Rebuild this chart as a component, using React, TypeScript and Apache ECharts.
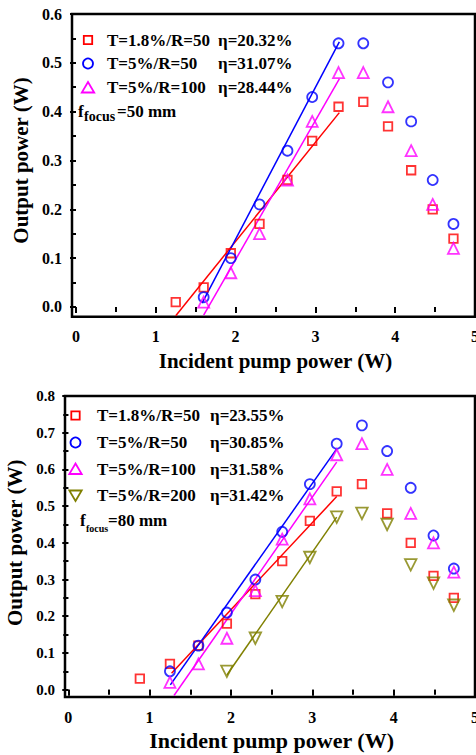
import React, { useEffect, useRef } from "react";
import * as echarts from "echarts";

const FONT = "'Liberation Serif','Times New Roman',serif";

// ---------- data: top chart (f_focus = 50 mm) ----------
const topPump = [1.25, 1.6, 1.94, 2.3, 2.65, 2.96, 3.29, 3.6, 3.91, 4.2, 4.47, 4.73];
const topRed = [0.01, 0.04, 0.11, 0.17, 0.26, 0.34, 0.41, 0.42, 0.37, 0.28, 0.2, 0.14];
const topBlue = [null, 0.02, 0.1, 0.21, 0.32, 0.43, 0.54, 0.54, 0.46, 0.38, 0.26, 0.17];
const topMagenta = [null, 0.01, 0.07, 0.15, 0.26, 0.38, 0.48, 0.48, 0.41, 0.32, 0.21, 0.12];
const topFitRed = [[1.25, -0.018], [3.3, 0.398]];
const topFitBlue = [[1.58, 0.008], [3.3, 0.543]];
const topFitMagenta = [[1.6, -0.017], [3.3, 0.467]];
const topLabels = ["T=1.8%/R=50", "T=5%/R=50", "T=5%/R=100"];
const topEta = ["η=20.32%", "η=31.07%", "η=28.44%"];

// ---------- data: bottom chart (f_focus = 80 mm) ----------
const botPump = [0.88, 1.25, 1.6, 1.95, 2.3, 2.63, 2.97, 3.3, 3.61, 3.92, 4.21, 4.49, 4.74];
const botRed = [0.03, 0.07, 0.12, 0.18, 0.26, 0.35, 0.46, 0.54, 0.56, 0.48, 0.4, 0.31, 0.25];
const botBlue = [null, 0.05, 0.12, 0.21, 0.3, 0.43, 0.56, 0.67, 0.72, 0.65, 0.55, 0.42, 0.33];
const botMagenta = [null, 0.02, 0.07, 0.14, 0.27, 0.41, 0.52, 0.64, 0.67, 0.6, 0.48, 0.4, 0.32];
const botOlive = [null, null, null, 0.05, 0.14, 0.24, 0.36, 0.47, 0.48, 0.45, 0.34, 0.29, 0.23];
const botFitRed = [[1.27, 0.045], [3.3, 0.526]];
const botFitBlue = [[1.255, 0.013], [3.3, 0.656]];
const botFitMagenta = [[1.3, -0.016], [3.3, 0.62]];
const botFitOlive = [[1.95, 0.04], [3.3, 0.47]];
const botLabels = ["T=1.8%/R=50", "T=5%/R=50", "T=5%/R=100", "T=5%/R=200"];
const botEta = ["η=23.55%", "η=30.85%", "η=31.58%", "η=31.42%"];

const xTicksTop = 5;
const yMaxTop = 0.6;
const yMaxBot = 0.8;

const RED = "#ff0000";
const BLUE = "#0000ff";
const MAGENTA = "#ff00ff";
const OLIVE = "#808000";

const pairs = (xs: number[], ys: (number | null)[]) =>
  xs.map((x, i) => [x, ys[i]]).filter((p) => p[1] !== null);

type Layout = { left: number; right: number; top: number; bottom: number; xMin: number; xMax: number; yMin: number; yMax: number };
const TOP: Layout = { left: 72, right: 475, top: 14, bottom: 316.7, xMin: -0.05, xMax: 5, yMin: -0.02, yMax: yMaxTop };
const BOT: Layout = { left: 65, right: 475, top: 396, bottom: 697, xMin: -0.04, xMax: 5, yMin: -0.02, yMax: yMaxBot };

function grids(L: Layout) {
  const w = L.right - L.left;
  const h = L.bottom - L.top;
  const px = w / (L.xMax - L.xMin);
  const py = h / (L.yMax - L.yMin);
  const tLeft = L.left + (0 - L.xMin) * px;
  const tBottom = L.bottom - (0 - L.yMin) * py;
  return {
    a: { left: L.left, top: L.top, width: w, height: h, show: true, borderColor: "#000", borderWidth: 2.5, backgroundColor: "transparent", outerBoundsMode: "none", containLabel: false },
    b: { left: tLeft, top: L.top, width: L.right - tLeft, height: tBottom - L.top, show: false, outerBoundsMode: "none", containLabel: false },
    xOffset: L.bottom - tBottom,
    yOffset: tLeft - L.left,
  };
}

const noSplit = { splitLine: { show: false }, minorSplitLine: { show: false } };

function scatter(name: string, data: any[], color: string, symbol: string, size: number, xi: number, rotate = 0) {
  return {
    type: "scatter",
    name,
    xAxisIndex: xi,
    yAxisIndex: xi,
    data,
    symbol,
    symbolSize: size,
    symbolRotate: rotate,
    itemStyle: { color: "rgba(0,0,0,0)", borderColor: color, borderWidth: 1.8 },
    emphasis: { disabled: true },
    z: 3,
  };
}
function fit(data: number[][], color: string, xi: number) {
  return {
    type: "line",
    xAxisIndex: xi,
    yAxisIndex: xi,
    data,
    symbol: "none",
    showSymbol: false,
    lineStyle: { color, width: 1.5 },
    silent: true,
    z: 2,
  };
}

function legendItems(
  x0: number,
  xText: number,
  xEta: number,
  rows: number[],
  labels: string[],
  etas: string[],
  colors: string[],
  kinds: string[],
  fs: number
) {
  const els: any[] = [];
  rows.forEach((y, i) => {
    const c = colors[i];
    const st = { fill: "none", stroke: c, lineWidth: 1.8 };
    const k = kinds[i];
    if (k === "rect") els.push({ type: "rect", shape: { x: x0 - 4.2, y: y - 4.2, width: 8.4, height: 8.4 }, style: st });
    else if (k === "circle") els.push({ type: "circle", shape: { cx: x0, cy: y, r: 5 }, style: st });
    else if (k === "up")
      els.push({ type: "polygon", shape: { points: [[x0, y - 5.5], [x0 + 6.2, y + 5], [x0 - 6.2, y + 5]] }, style: st });
    else
      els.push({ type: "polygon", shape: { points: [[x0, y + 5.5], [x0 + 6.2, y - 5], [x0 - 6.2, y - 5]] }, style: st });
    els.push({ type: "text", x: xText, y, style: { text: labels[i], fill: "#000", font: `bold ${fs}px ${FONT}`, verticalAlign: "middle" } });
    els.push({ type: "text", x: xEta, y, style: { text: etas[i], fill: "#000", font: `bold ${fs}px ${FONT}`, verticalAlign: "middle" } });
  });
  return els;
}

export default function App() {
  const ref = useRef<HTMLDivElement>(null);
  useEffect(() => {
    if (!ref.current) return;
    const chart = echarts.init(ref.current, null, { renderer: "svg" });
    const g1 = grids(TOP);
    const g2 = grids(BOT);

    const dataX = (gi: number, L: Layout) => ({
      type: "value", gridIndex: gi, min: L.xMin, max: L.xMax, show: false, ...noSplit,
    });
    const dataY = (gi: number, L: Layout) => ({
      type: "value", gridIndex: gi, min: L.yMin, max: L.yMax, show: false, ...noSplit,
    });
    const tickX = (gi: number, offset: number, fs: number, nameGap: number, nameFs: number, margin: number) => ({
      type: "value", gridIndex: gi, min: 0, max: xTicksTop, interval: 1, position: "bottom", offset,
      axisLine: { show: false },
      axisTick: { show: true, inside: false, length: 6, lineStyle: { color: "#000", width: 2 } },
      minorTick: { show: true, splitNumber: 2, length: 4, lineStyle: { color: "#000", width: 2 } },
      axisLabel: { show: true, color: "#000", fontFamily: FONT, fontWeight: "bold", fontSize: fs, margin, showMaxLabel: true, showMinLabel: true, hideOverlap: false },
      name: "Incident pump power (W)", nameLocation: "middle", nameGap,
      nameTextStyle: { color: "#000", fontFamily: FONT, fontWeight: "bold", fontSize: nameFs },
      ...noSplit,
    });
    const topX = (gi: number) => ({
      type: "value", gridIndex: gi, min: 0, max: xTicksTop, interval: 1, position: "top",
      axisLine: { show: false },
      axisTick: { show: true, inside: true, length: 5, lineStyle: { color: "#000", width: 2 } },
      minorTick: { show: true, splitNumber: 2, length: 5, lineStyle: { color: "#000", width: 2 } },
      axisLabel: { show: false }, ...noSplit,
    });
    const tickY = (gi: number, max: number, offset: number, fs: number, nameGap: number, nameFs: number, margin: number) => ({
      type: "value", gridIndex: gi, min: 0, max, interval: 0.1, position: "left", offset,
      axisLine: { show: false },
      axisTick: { show: true, inside: false, length: 6, lineStyle: { color: "#000", width: 2 } },
      minorTick: { show: true, splitNumber: 2, length: 4, lineStyle: { color: "#000", width: 2 } },
      axisLabel: { show: true, color: "#000", fontFamily: FONT, fontWeight: "bold", fontSize: fs, margin, formatter: (v: number) => v.toFixed(1) },
      name: "Output power (W)", nameLocation: "middle", nameGap, nameRotate: 90,
      nameTextStyle: { color: "#000", fontFamily: FONT, fontWeight: "bold", fontSize: nameFs },
      ...noSplit,
    });
    const rightY = (gi: number, max: number) => ({
      type: "value", gridIndex: gi, min: 0, max, interval: 0.1, position: "right",
      axisLine: { show: false },
      axisTick: { show: true, inside: true, length: 5, lineStyle: { color: "#000", width: 2 } },
      minorTick: { show: true, splitNumber: 2, length: 5, lineStyle: { color: "#000", width: 2 } },
      axisLabel: { show: false }, ...noSplit,
    });

    const graphic = [
      ...legendItems(88, 107, 218, [40, 63.5, 87.5], topLabels, topEta, [RED, BLUE, MAGENTA], ["rect", "circle", "up"], 17),
      { type: "text", x: 78, y: 111, style: { text: "f", fill: "#000", font: `bold 17px ${FONT}`, verticalAlign: "middle" } },
      { type: "text", x: 84, y: 116, style: { text: "focus", fill: "#000", font: `bold 14px ${FONT}`, verticalAlign: "middle" } },
      { type: "text", x: 117, y: 111, style: { text: "=50 mm", fill: "#000", font: `bold 17px ${FONT}`, verticalAlign: "middle" } },
      ...legendItems(75.5, 97, 210, [415.5, 442.5, 469, 495.5], botLabels, botEta, [RED, BLUE, MAGENTA, OLIVE], ["rect", "circle", "up", "down"], 17),
      { type: "text", x: 80, y: 520, style: { text: "f", fill: "#000", font: `bold 17px ${FONT}`, verticalAlign: "middle" } },
      { type: "text", x: 86, y: 528, style: { text: "focus", fill: "#000", font: `bold 10px ${FONT}`, verticalAlign: "middle" } },
      { type: "text", x: 108, y: 520, style: { text: "=80 mm", fill: "#000", font: `bold 17px ${FONT}`, verticalAlign: "middle" } },
    ];

    chart.setOption({
      animation: false,
      backgroundColor: "#fff",
      textStyle: { fontFamily: FONT },
      grid: [g1.a, g1.b, g2.a, g2.b],
      xAxis: [
        dataX(0, TOP),
        tickX(1, g1.xOffset, 16, 34, 21, 12),
        topX(1),
        dataX(2, BOT),
        tickX(3, g2.xOffset, 16, 32, 22, 12),
        topX(3),
      ],
      yAxis: [
        dataY(0, TOP),
        tickY(1, yMaxTop, g1.yOffset, 16, 40, 21, 10),
        rightY(1, yMaxTop),
        dataY(2, BOT),
        tickY(3, yMaxBot, g2.yOffset, 15, 36, 21, 10),
        rightY(3, yMaxBot),
      ],
      series: [
        fit(topFitRed, RED, 0),
        fit(topFitBlue, BLUE, 0),
        fit(topFitMagenta, MAGENTA, 0),
        scatter("T=1.8%/R=50", pairs(topPump, topRed), RED, "rect", 8.5, 0),
        scatter("T=5%/R=50", pairs(topPump, topBlue), BLUE, "circle", 10, 0),
        scatter("T=5%/R=100", pairs(topPump, topMagenta), MAGENTA, "triangle", 11, 0),
        fit(botFitRed, RED, 3),
        fit(botFitBlue, BLUE, 3),
        fit(botFitMagenta, MAGENTA, 3),
        fit(botFitOlive, OLIVE, 3),
        scatter("T=1.8%/R=50 ", pairs(botPump, botRed), RED, "rect", 8.5, 3),
        scatter("T=5%/R=50 ", pairs(botPump, botBlue), BLUE, "circle", 10, 3),
        scatter("T=5%/R=100 ", pairs(botPump, botMagenta), MAGENTA, "triangle", 11, 3),
        scatter("T=5%/R=200", pairs(botPump, botOlive), OLIVE, "triangle", 11.5, 3, 180),
      ],
      graphic,
    });
    return () => chart.dispose();
  }, []);
  return <div ref={ref} style={{ position: "absolute", left: 0, top: 0, width: 476, height: 755 }} />;
}
